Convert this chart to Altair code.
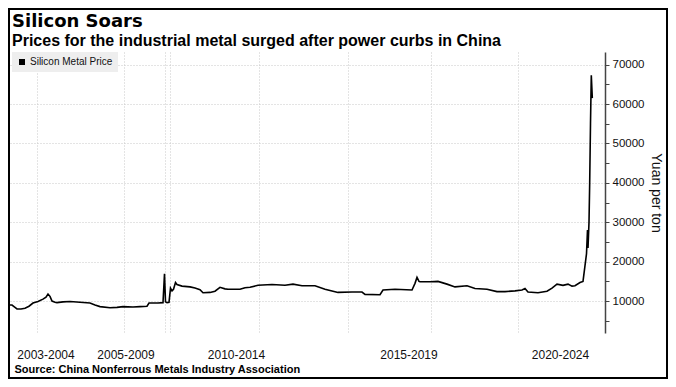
import altair as alt
import pandas as pd

# ---- data (t = position along the period axis) ----
t_index = [0, 2, 5, 7, 11, 15, 19, 23, 28, 33, 36, 38, 40, 42, 45, 47, 53, 60, 70, 80,
           85, 90, 100, 107, 113, 123, 130, 137, 139, 148, 153, 154.5, 155.5, 157, 159,
           160.5, 162, 163.5, 165.5, 167, 172, 180, 185, 190, 193, 200, 205, 210, 215,
           218, 230, 235, 240, 248, 262, 275, 283, 292, 305, 315, 328, 342, 352, 355,
           370, 373, 385, 402, 405, 407, 409, 410, 420, 428, 437, 445, 457, 465, 477,
           487, 495, 505, 512, 515, 518, 528, 537, 542, 547, 553, 558, 562, 565, 570,
           573, 575, 576.5, 577.5, 578, 579, 579.7, 580.5, 581.3, 582.3]
price = [9000, 9000, 8400, 8000, 8000, 8200, 8700, 9500, 9900, 10500, 11000, 11800, 11200,
         10000, 9700, 9600, 9800, 9900, 9700, 9500, 9000, 8600, 8300, 8400, 8600, 8500,
         8600, 8700, 9500, 9500, 9600, 16900, 9800, 9600, 9700, 13300, 12600, 13000,
         14700, 14200, 13800, 13600, 13300, 12900, 12100, 12200, 12500, 13500, 13100,
         13000, 13000, 13400, 13500, 14000, 14200, 14000, 14300, 13900, 13900, 13000,
         12200, 12300, 12300, 11700, 11600, 12800, 13000, 12800, 14500, 16000, 15000,
         14900, 14900, 15000, 14300, 13600, 13900, 13200, 13000, 12400, 12400, 12600,
         12800, 13200, 12300, 12100, 12500, 13300, 14300, 14000, 14300, 13800, 13900,
         14700, 15000, 19000, 22000, 28000, 23500, 30000, 40000, 55000, 67300, 61500]
series_name = "Silicon Metal Price"

period_labels = ["2003-2004", "2005-2009", "2010-2014", "2015-2019", "2020-2024"]
period_label_t = [35.5, 115.5, 226, 398.5, 550]
period_grid_t = [27, 114, 155, 160, 249, 338, 421, 508]
y_ticks = list(range(5000, 70001, 5000))

title_text = "Silicon Soars"
subtitle_text = "Prices for the industrial metal surged after power curbs in China"
source_text = "Source: China Nonferrous Metals Industry Association"
y_title = "Yuan per ton"

df = pd.DataFrame({"t": t_index, "price": price, "series": series_name})

label_expr = "".join(
    f"datum.value == {v} ? '{s}' : " for v, s in zip(period_label_t, period_labels)
) + "''"
x_grid_test = "indexof([%s], datum.value) >= 0" % ",".join(str(v) for v in period_grid_t)

x_axis = alt.Axis(
    values=sorted(period_grid_t + period_label_t),
    labelExpr=label_expr,
    ticks=False,
    domain=False,
    grid=True,
    gridColor="#c8c8c8",
    gridDash=[1, 2],
    gridWidth=1,
    gridOpacity={"condition": {"test": x_grid_test, "value": 1}, "value": 0},
    labelFont="Liberation Sans",
    labelFontSize=12,
    labelColor="#111111",
    labelPadding=16,
    labelFlush=False,
    labelOverlap=False,
    title=source_text,
    titleFont="Liberation Sans",
    titleFontSize=11,
    titleFontWeight="bold",
    titleColor="#000000",
    titleAnchor="start",
    titleAlign="left",
    titleX=4,
    titlePadding=3,
)

y_axis = alt.Axis(
    orient="right",
    values=y_ticks,
    format="d",
    labelExpr="datum.value % 10000 === 0 ? datum.label : ''",
    grid=True,
    gridColor="#c8c8c8",
    gridDash=[1, 2],
    gridWidth=1,
    gridOpacity={"condition": {"test": "datum.value % 10000 === 0", "value": 1}, "value": 0},
    domainColor="#444444",
    domainWidth=1.5,
    tickColor="#444444",
    tickSize=4,
    tickWidth=1,
    labelFont="Liberation Sans",
    labelFontSize=11.5,
    labelColor="#111111",
    labelPadding=3,
    labelOverlap=False,
    title=y_title,
    titleFont="Liberation Sans",
    titleFontSize=14,
    titleFontWeight="normal",
    titleColor="#111111",
    titlePadding=5,
)

line = alt.Chart(df).mark_line(strokeWidth=1.6, color="#000000").encode(
    x=alt.X("t:Q", scale=alt.Scale(domain=[0, 595], nice=False, zero=False), axis=x_axis),
    y=alt.Y("price:Q", scale=alt.Scale(domain=[1900, 73200], nice=False, zero=False), axis=y_axis),
    color=alt.Color(
        "series:N",
        scale=alt.Scale(domain=[series_name], range=["#000000"]),
        legend=alt.Legend(
            title=None,
            orient="none",
            legendX=2,
            legendY=0,
            fillColor="#eeeeee",
            padding=5,
            symbolType="square",
            symbolSize=36,
            symbolFillColor="#000000",
            symbolStrokeWidth=0,
            labelFont="Liberation Sans",
            labelFontSize=10,
            labelColor="#111111",
            labelOffset=3,
        ),
    ),
)

frame = alt.Chart(pd.DataFrame({"k": [0]})).mark_rect(
    fillOpacity=0, stroke="#000000", strokeWidth=2
).encode(
    x=alt.value(-1), x2=alt.value(657), y=alt.value(-43), y2=alt.value(326)
)

chart = alt.layer(line, frame).properties(
    width=595,
    height=281,
    padding={"left": 2, "top": 44, "right": 63, "bottom": 46},
    autosize=alt.AutoSizeParams(type="none"),
    background="#ffffff",
    title=alt.TitleParams(
        text=title_text,
        subtitle=subtitle_text,
        anchor="start",
        frame="group",
        dx=2,
        offset=-41,
        font="DejaVu Sans",
        fontSize=18,
        fontWeight="bold",
        color="#000000",
        subtitleFont="Liberation Sans",
        subtitleFontSize=16,
        subtitleFontWeight="bold",
        subtitleColor="#000000",
        subtitlePadding=2,
    ),
).configure_view(stroke=None)

chart.save("out.html", embed_options={"renderer": "svg", "actions": False})
